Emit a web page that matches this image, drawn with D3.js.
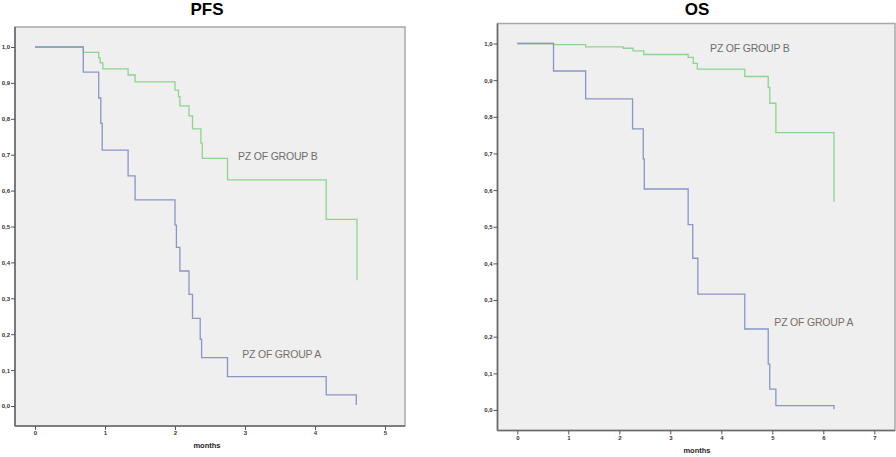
<!DOCTYPE html>
<html>
<head>
<meta charset="utf-8">
<script src="https://cdn.jsdelivr.net/npm/d3@7"></script>
<style>
  body { margin: 0; background: #fff; }
  svg { display: block; font-family: "Liberation Sans", Arial, sans-serif; }
</style>
</head>
<body>
<svg id="chart" width="896" height="457"></svg>
<script>
// PFS, group A (blue) and group B (green): time in months, cumulative survival
var pfsMonthsA = [0, 0.69, 0.91, 0.94, 0.96, 1.33, 1.43, 2.00, 2.02, 2.07, 2.20, 2.25, 2.36, 2.38, 2.75, 4.16, 4.59];
var pfsSurvA   = [1, 0.93, 0.858, 0.787, 0.713, 0.641, 0.574, 0.504, 0.442, 0.376, 0.311, 0.244, 0.186, 0.135, 0.082, 0.031, 0.003];
var pfsMonthsB = [0, 0.69, 0.91, 0.93, 0.97, 1.33, 1.43, 2.00, 2.05, 2.07, 2.20, 2.25, 2.37, 2.39, 2.75, 4.16, 4.60];
var pfsSurvB   = [1, 0.985, 0.97, 0.956, 0.939, 0.922, 0.903, 0.88, 0.862, 0.836, 0.808, 0.772, 0.732, 0.69, 0.63, 0.52, 0.35];

// OS
var osMonthsA = [0, 0.71, 1.34, 2.26, 2.47, 2.49, 3.35, 3.44, 3.54, 4.46, 4.92, 4.95, 5.07, 6.21];
var osSurvA   = [1, 0.925, 0.849, 0.767, 0.685, 0.603, 0.506, 0.414, 0.316, 0.221, 0.125, 0.057, 0.012, 0.002];
var osMonthsB = [0, 0.71, 1.34, 2.08, 2.27, 2.48, 3.35, 3.45, 3.53, 4.46, 4.92, 4.95, 5.07, 6.21];
var osSurvB   = [1, 0.997, 0.991, 0.987, 0.98, 0.97, 0.962, 0.946, 0.93, 0.91, 0.88, 0.837, 0.757, 0.568];

var yTicks = [0, 0.1, 0.2, 0.3, 0.4, 0.5, 0.6, 0.7, 0.8, 0.9, 1.0];
var yTickLabels = ["0,0", "0,1", "0,2", "0,3", "0,4", "0,5", "0,6", "0,7", "0,8", "0,9", "1,0"];
var pfsXTicks = [0, 1, 2, 3, 4, 5];
var osXTicks = [0, 1, 2, 3, 4, 5, 6, 7];
var groupLabels = ["PZ OF GROUP A", "PZ OF GROUP B"];

var blue = "#8996c6", green = "#8ed48e";

var svg = d3.select("#chart");

function panel(opt) {
  var x = d3.scaleLinear().domain(opt.xDomain).range(opt.xRange);
  var y = d3.scaleLinear().domain([0, 1]).range(opt.yRange);
  var g = svg.append("g");

  // plot frame
  g.append("rect")
    .attr("x", opt.frame[0]).attr("y", opt.frame[1])
    .attr("width", opt.frame[2] - opt.frame[0])
    .attr("height", opt.frame[3] - opt.frame[1])
    .attr("fill", "#efefef")
    .attr("stroke", "#a8a8a8")
    .attr("stroke-width", 1.5);

  // axes
  var ya = g.append("g")
    .attr("transform", "translate(" + opt.frame[0] + ",0)")
    .call(d3.axisLeft(y).tickValues(yTicks).tickSize(4)
      .tickFormat(function(d, i) { return yTickLabels[i]; }));
  ya.select(".domain").attr("d", "M0," + opt.frame[1] + "V" + opt.frame[3]);

  var xa = g.append("g")
    .attr("transform", "translate(0," + opt.frame[3] + ")")
    .call(d3.axisBottom(x).tickValues(opt.xTicks).tickSize(4).tickFormat(d3.format("d")));
  xa.select(".domain").attr("d", "M" + opt.frame[0] + ",0H" + opt.frame[2]);

  [ya, xa].forEach(function(a) {
    a.select(".domain").attr("stroke", "#6a6a6a").attr("stroke-width", 1.6);
    a.selectAll(".tick line").attr("stroke", "#555");
    a.selectAll(".tick text").attr("fill", "#333")
      .style("font-size", "6px").style("font-weight", "bold")
      .style("font-family", "\"Liberation Sans\", Arial, sans-serif");
  });
  ya.selectAll(".tick text").attr("x", -5);
  xa.selectAll(".tick text").attr("y", 5);

  var line = d3.line()
    .x(function(d) { return x(d[0]); })
    .y(function(d) { return y(d[1]); })
    .curve(d3.curveStepAfter);

  g.append("path")
    .datum(d3.zip(opt.monthsB, opt.survB))
    .attr("d", line).attr("fill", "none")
    .attr("stroke", green).attr("stroke-width", 1.3);
  g.append("path")
    .datum(d3.zip(opt.monthsA, opt.survA))
    .attr("d", line).attr("fill", "none")
    .attr("stroke", blue).attr("stroke-width", 1.3);

  // group labels
  g.append("text").text(groupLabels[1])
    .attr("x", x(opt.labelB[0])).attr("y", y(opt.labelB[1]))
    .attr("dy", "0.35em")
    .attr("fill", "#6e6e6e").style("font-size", "10.5px").style("letter-spacing", "-0.2px");
  g.append("text").text(groupLabels[0])
    .attr("x", x(opt.labelA[0])).attr("y", y(opt.labelA[1]))
    .attr("dy", "0.35em")
    .attr("fill", "#7a6e66").style("font-size", "10.5px").style("letter-spacing", "-0.2px");

  // title and axis title
  g.append("text").text(opt.title)
    .attr("x", opt.titleX).attr("y", 15)
    .attr("text-anchor", "middle")
    .style("font-size", "17px").style("font-weight", "bold")
    .style("font-family", "Arial, \"Liberation Sans\", sans-serif");
  g.append("text").text("months")
    .attr("x", opt.titleX).attr("y", opt.frame[3] + 22)
    .attr("text-anchor", "middle")
    .style("font-size", "7.5px").style("font-weight", "bold").attr("fill", "#222");
}

panel({
  title: "PFS", titleX: 207,
  xDomain: [0, 5], xRange: [35, 385], yRange: [406, 47],
  frame: [15, 27, 405, 426], xTicks: pfsXTicks,
  monthsA: pfsMonthsA, survA: pfsSurvA, monthsB: pfsMonthsB, survB: pfsSurvB,
  labelB: [2.9, 0.695], labelA: [2.96, 0.143]
});

panel({
  title: "OS", titleX: 697,
  xDomain: [0, 7], xRange: [517.3, 874.3], yRange: [410, 43.5],
  frame: [497.5, 23.5, 895, 430.5], xTicks: osXTicks,
  monthsA: osMonthsA, survA: osSurvA, monthsB: osMonthsB, survB: osSurvB,
  labelB: [3.78, 0.986], labelA: [5.04, 0.24]
});
</script>
</body>
</html>
